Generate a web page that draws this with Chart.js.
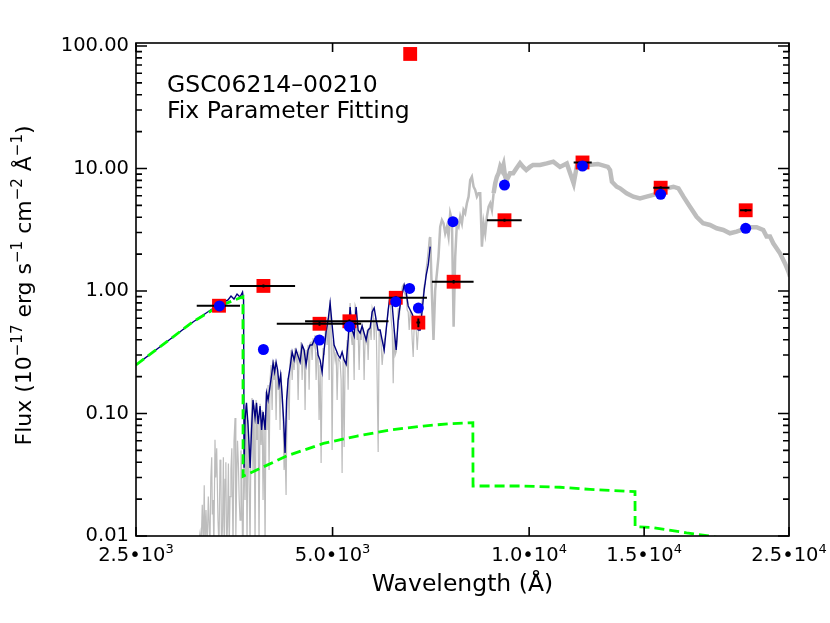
<!DOCTYPE html>
<html>
<head>
<meta charset="utf-8">
<script src="https://cdn.jsdelivr.net/npm/chart.js@4.4.1/dist/chart.umd.min.js"></script>
<style>
  html, body { margin: 0; padding: 0; background: #fff; }
  #wrap { width: 830px; height: 623px; }
</style>
</head>
<body>
<div id="wrap"><canvas id="sed" width="830" height="623"></canvas></div>
<script>
// axis ticks (mantissa, power of ten)
const xTicks = [2500, 5000, 10000, 15000, 25000];
const xTickMant = ['2.5•10', '5.0•10', '1.0•10', '1.5•10', '2.5•10'];
const xTickExp = ['3', '3', '4', '4', '4'];
const yTicks = [0.01, 0.1, 1, 10, 100];
const yTickLabels = ['0.01', '0.10', '1.00', '10.00', '100.00'];
const labelLines = ['GSC06214–00210', 'Fix Parameter Fitting'];
// y title pieces, odd entries are superscripts
const yTitleParts = ['Flux (10', '−17', ' erg s', '−1', ' cm', '−2', ' Å', '−1', ')'];

// observed photometry (red squares) with filter widths
const photWave   = [3350, 3918, 4775, 5306, 6248, 6766, 6574, 7662, 9167, 12070, 15900, 21460];
const photFlux   = [0.758, 1.10, 0.54, 0.566, 0.88, 0.552, 86.1, 1.19, 3.78, 11.2, 6.97, 4.56];
const photWaveLo = [3097, 3480, 4107, 4538, 5510, 6720, 6574, 7097, 8616, 11700, 15490, 21035];
const photWaveHi = [3608, 4381, 5530, 6090, 6974, 6810, 6574, 8221, 9741, 12470, 16400, 21900];
const photFluxErr = [0.02, 0.03, 0.02, 0.02, 0.03, 0.045, 0, 0.04, 0.1, 0.3, 0.2, 0.12];

// synthetic photometry (blue circles)
const synWave = [3355, 3918, 4775, 5306, 6248, 6560, 6766, 7643, 9167, 12070, 15900, 21460];
const synFlux = [0.755, 0.333, 0.398, 0.511, 0.818, 1.05, 0.725, 3.68, 7.33, 10.48, 6.15, 3.25];

// green dashed model
const modelWave = [2500, 3061, 3355, 3645, 3647, 4253, 4841, 5452, 6126, 6883, 7570, 8200, 8205, 9684, 11150, 12400, 14525, 14530, 15490, 17420, 18920, 22000];
const modelFlux = [0.249, 0.564, 0.755, 0.897, 0.0307, 0.045, 0.057, 0.0655, 0.0733, 0.079, 0.0826, 0.0841, 0.0256, 0.0256, 0.025, 0.024, 0.023, 0.0119, 0.0117, 0.0106, 0.0100, 0.0085];

// navy spectrum
const navyWave = [2500, 2770, 3057, 3303, 3458, 3495, 3532, 3570, 3608, 3640, 3653, 3660, 3672, 3691, 3711, 3725, 3738, 3757, 3777, 3804,
  3824, 3845, 3872, 3893, 3913, 3941, 3962, 3983, 4011, 4033, 4054, 4076, 4097, 4119, 4141, 4163, 4185, 4207, 4229, 4252,
  4274, 4305, 4336, 4366, 4397, 4428, 4459, 4491, 4523, 4554, 4587, 4619, 4652, 4685, 4718, 4751, 4785, 4819, 4853, 4887,
  4922, 4957, 4992, 5027, 5063, 5099, 5135, 5171, 5208, 5245, 5282, 5319, 5357, 5395, 5433, 5471, 5510, 5549, 5588, 5628,
  5668, 5708, 5749, 5790, 5831, 5872, 5913, 5955, 5998, 6040, 6083, 6126, 6170, 6214, 6257, 6302, 6346, 6391, 6437, 6482,
  6528, 6574, 6621, 6668, 6715, 6763, 6810, 6859, 6907, 6956, 7005, 7054];
const navyFlux = [0.249, 0.376, 0.558, 0.740, 0.845, 0.91, 0.86, 0.945, 0.893, 0.98, 0.845, 0.036, 0.0885, 0.122, 0.0805, 0.0553, 0.036, 0.0733, 0.129, 0.092,
  0.122, 0.082, 0.115, 0.0733, 0.103, 0.0733, 0.147, 0.129, 0.168, 0.206, 0.258, 0.218, 0.263, 0.227, 0.171, 0.206, 0.142, 0.0885, 0.0477, 0.129,
  0.188, 0.240, 0.318, 0.273, 0.330, 0.294, 0.263, 0.362, 0.330, 0.249, 0.330, 0.362, 0.362, 0.398, 0.421, 0.300, 0.273, 0.218, 0.330, 0.463,
  0.580, 0.798, 0.528, 0.362, 0.330, 0.300, 0.283, 0.318, 0.273, 0.253, 0.398, 0.740, 0.481, 0.429, 0.740, 0.481, 0.454, 0.518, 0.454, 0.398,
  0.481, 0.499, 0.674, 0.727, 0.580, 0.481, 0.481, 0.398, 0.330, 0.481, 0.700, 0.927, 0.769, 0.481, 0.330, 0.580, 0.769, 0.945, 1.12, 0.98,
  0.755, 0.700, 0.649, 0.580, 0.518, 0.481, 0.481, 0.700, 1.02, 1.35, 1.63, 2.3];

// grey high resolution spectrum
const greyWave = [3111, 3133, 3145, 3158, 3170, 3180, 3189, 3200, 3213, 3226, 3236, 3245, 3255, 3265, 3272, 3280, 3290, 3303, 3312, 3323,
  3338, 3350, 3362, 3372, 3380, 3392, 3402, 3412, 3422, 3432, 3441, 3452, 3463, 3473, 3483, 3494, 3505, 3512, 3520, 3532,
  3545, 3555, 3566, 3576, 3587, 3597, 3608, 3620, 3630, 3640,
  3647, 3660, 3672, 3685, 3698, 3711, 3725, 3738, 3751, 3764, 3777, 3791, 3804, 3818, 3831, 3845, 3858, 3872, 3886, 3900,
  3913, 3927, 3941, 3955, 3969, 3983, 3997, 4011, 4025, 4040, 4054, 4068, 4083, 4097, 4112, 4126, 4141, 4155, 4170, 4185,
  4200, 4214, 4229, 4244, 4259, 4274, 4290, 4305, 4320, 4336, 4351, 4366, 4381, 4397, 4413, 4428, 4444, 4459, 4475, 4491,
  4507, 4523, 4538, 4554, 4571, 4587, 4603, 4619, 4635, 4652, 4668, 4685, 4701, 4718, 4735, 4751, 4768, 4785, 4802, 4819,
  4836, 4853, 4870, 4887, 4905, 4922, 4940, 4957, 4975, 4992, 5010, 5027, 5045, 5063, 5081, 5099, 5117, 5135, 5153, 5171,
  5190, 5208, 5226, 5245, 5263, 5282, 5300, 5319, 5338, 5357, 5376, 5395, 5414, 5433, 5452, 5471, 5491, 5510, 5530, 5549,
  5569, 5588, 5608, 5628, 5648, 5668, 5688, 5708, 5728, 5749, 5769, 5790, 5810, 5831, 5851, 5872, 5893, 5913, 5934, 5955,
  5977, 5998, 6019, 6040, 6062, 6083, 6105, 6126, 6148, 6170, 6192, 6214, 6235, 6257, 6280, 6302, 6324, 6346, 6369, 6391,
  6414, 6437, 6459, 6482, 6505, 6528, 6551, 6574, 6597, 6621, 6644, 6668, 6691, 6715, 6739, 6763, 6787, 6810, 6835, 6859,
  6883, 6907, 6931, 6956, 6981, 7005, 7030, 7054,
  7097, 7137, 7180, 7223, 7264, 7308, 7352, 7395, 7438, 7483, 7526, 7570, 7616, 7662, 7705, 7751, 7797, 7842, 7889, 7935,
  7981, 8029, 8077, 8123, 8172, 8221, 8268, 8317, 8366, 8415, 8466, 8516, 8565, 8616, 8669, 8717, 8769, 8822, 8873, 8926,
  8978, 9030, 9083, 9136, 9188, 9241, 9295, 9348, 9454, 9564, 9684, 9790, 9899, 10030, 10140, 10391, 10640, 10890, 11150, 11420,
  11700, 11840, 12290, 12740, 13200, 13302, 13390, 13620, 13778, 14100, 14440, 14783, 15130, 15490, 15865, 16240, 16630, 16930, 17230, 17632,
  18050, 18470, 18920, 19370, 19830, 20300, 20780, 21270, 21790, 22300, 22830, 23100, 23380, 23650, 24220, 24650, 24950, 25090];
const greyFlux = [0.008, 0.0106, 0.008, 0.018, 0.008, 0.026, 0.008, 0.0163, 0.008, 0.021, 0.012, 0.008, 0.03, 0.044, 0.015, 0.0197, 0.008, 0.061, 0.03, 0.052,
  0.0135, 0.008, 0.042, 0.035, 0.008, 0.012, 0.044, 0.008, 0.029, 0.04, 0.008, 0.012, 0.039, 0.008, 0.021, 0.035, 0.052, 0.02, 0.008, 0.06,
  0.092, 0.01, 0.029, 0.06, 0.039, 0.02, 0.0135, 0.05, 0.032, 0.008,
  0.008, 0.0733, 0.0197, 0.117, 0.008, 0.0885, 0.0286, 0.008, 0.0805, 0.134, 0.0346, 0.117, 0.008, 0.129, 0.0608, 0.0885, 0.008, 0.120, 0.0553, 0.107,
  0.0197, 0.0972, 0.008, 0.150, 0.0733, 0.171, 0.0346, 0.188, 0.249, 0.107, 0.273, 0.188, 0.263, 0.0885, 0.235, 0.156, 0.188, 0.0733, 0.218, 0.129,
  0.0885, 0.0346, 0.0504, 0.0216, 0.129, 0.195, 0.0885, 0.263, 0.330, 0.188, 0.300, 0.227, 0.342, 0.273, 0.318, 0.129, 0.300, 0.273, 0.383, 0.188,
  0.342, 0.318, 0.107, 0.330, 0.273, 0.362, 0.156, 0.376, 0.383, 0.273, 0.413, 0.362, 0.437, 0.188, 0.318, 0.283, 0.0885, 0.249, 0.0394, 0.227,
  0.342, 0.300, 0.437, 0.580, 0.362, 0.602, 0.188, 0.845, 0.481, 0.0504, 0.398, 0.330, 0.273, 0.318, 0.129, 0.283, 0.273, 0.263, 0.188, 0.0327,
  0.300, 0.0533, 0.263, 0.249, 0.398, 0.156, 0.580, 0.798, 0.437, 0.362, 0.463, 0.188, 0.769, 0.727, 0.398, 0.481, 0.227, 0.463, 0.398, 0.528,
  0.481, 0.188, 0.413, 0.383, 0.481, 0.273, 0.499, 0.499, 0.398, 0.727, 0.674, 0.398, 0.602, 0.528, 0.188, 0.0486, 0.481, 0.463, 0.362, 0.249,
  0.318, 0.398, 0.413, 0.481, 0.580, 0.674, 0.845, 0.927, 0.580, 0.481, 0.177, 0.481, 0.300, 0.318, 0.398, 0.727, 0.580, 0.769, 0.845, 1.08,
  1.12, 0.98, 0.927, 0.96, 0.700, 0.674, 0.481, 0.674, 0.649, 0.398, 0.289, 0.528, 0.558, 0.481, 0.330, 0.463, 0.481, 0.637, 0.727, 0.845,
  0.91, 1.12, 1.14, 1.54, 1.79, 2.16, 2.71, 2.76,
  0.957, 0.398, 1.02, 1.39, 1.90, 3.35, 3.80, 3.57, 2.96, 3.35, 2.78, 4.31, 3.80, 0.511, 1.90, 3.57, 3.35, 4.04, 3.57, 4.58,
  4.31, 5.20, 5.89, 8.05, 8.57, 7.10, 6.67, 5.89, 6.28, 6.28, 2.30, 3.57, 2.96, 4.04, 4.88, 5.20, 4.58, 6.28, 7.57, 8.57,
  9.14, 10.34, 9.72, 10.7, 8.57, 8.05, 8.57, 9.14, 9.14, 10.04, 11.03, 10.3, 9.72, 10.3, 10.7, 10.7, 11.0, 11.37, 10.3, 11.0,
  7.56, 10.7, 10.7, 10.9, 10.3, 9.72, 7.80, 7.10, 6.89, 6.28, 5.89, 5.71, 5.89, 6.08, 6.47, 6.89, 7.10, 6.89, 5.89, 4.88,
  4.04, 3.57, 3.46, 3.25, 3.15, 2.96, 3.05, 3.19, 3.32, 3.32, 3.15, 2.78, 2.78, 2.45, 2.03, 1.68, 1.44, 1.31];

const toPoints = (xs, ys) => xs.map((x, i) => ({x: x, y: ys[i]}));

// error bars: horizontal filter width, small vertical flux error
const errPoints = [];
photWave.forEach((w, i) => {
    errPoints.push({x: photWaveLo[i], y: photFlux[i]}, {x: photWaveHi[i], y: photFlux[i]}, {x: w, y: null});
    if (photFluxErr[i] > 0) {
        errPoints.push({x: w, y: photFlux[i] - photFluxErr[i]}, {x: w, y: photFlux[i] + photFluxErr[i]}, {x: w, y: null});
    }
});

const FONT = '"DejaVu Sans"';

// frame and tick marks like the IDL box
const framePlugin = {
    id: 'frame',
    afterDatasetsDraw(chart) {
        const {ctx, chartArea: a, scales} = chart;
        const xs = scales.x, ys = scales.y;
        ctx.save();
        ctx.strokeStyle = '#000';
        ctx.lineWidth = 1.6;
        ctx.strokeRect(a.left, a.top, a.right - a.left, a.bottom - a.top);
        ctx.beginPath();
        xTicks.forEach(v => {
            const px = xs.getPixelForValue(v);
            ctx.moveTo(px, a.bottom); ctx.lineTo(px, a.bottom - 9);
            ctx.moveTo(px, a.top); ctx.lineTo(px, a.top + 9);
        });
        yTicks.forEach(v => {
            for (let m = 1; m <= 9; m++) {
                const val = v * m;
                if (val > ys.max) break;
                const py = ys.getPixelForValue(val);
                const len = m === 1 ? 11 : 6;
                ctx.moveTo(a.left, py); ctx.lineTo(a.left + len, py);
                ctx.moveTo(a.right, py); ctx.lineTo(a.right - len, py);
            }
        });
        ctx.stroke();
        ctx.restore();
    }
};

// text with superscripts: parts alternate normal / raised
function drawParts(ctx, parts, x, y, size, align) {
    const supSize = Math.round(size * 0.68);
    const widths = parts.map((p, i) => {
        ctx.font = (i % 2 ? supSize : size) + 'px ' + FONT;
        return ctx.measureText(p).width;
    });
    const total = widths.reduce((s, w) => s + w, 0);
    let cx = align === 'center' ? x - total / 2 : x;
    parts.forEach((p, i) => {
        ctx.font = (i % 2 ? supSize : size) + 'px ' + FONT;
        ctx.fillText(p, cx, i % 2 ? y - size * 0.42 : y);
        cx += widths[i];
    });
}

// tick labels of the x axis, y title, object name
const textPlugin = {
    id: 'label',
    afterDraw(chart) {
        const {ctx, chartArea: a, scales} = chart;
        ctx.save();
        ctx.fillStyle = '#000';
        ctx.textAlign = 'left';
        ctx.textBaseline = 'alphabetic';
        xTicks.forEach((v, i) => {
            drawParts(ctx, [xTickMant[i], xTickExp[i]], scales.x.getPixelForValue(v), 561, 19.5, 'center');
        });
        ctx.save();
        ctx.translate(31, (a.top + a.bottom) / 2 - 4);
        ctx.rotate(-Math.PI / 2);
        drawParts(ctx, yTitleParts, 0, 0, 22, 'center');
        ctx.restore();
        ctx.font = '23.5px ' + FONT;
        ctx.fillText(labelLines[0], 167, 92);
        ctx.fillText(labelLines[1], 167, 118);
        ctx.restore();
    }
};

new Chart(document.getElementById('sed'), {
    type: 'scatter',
    data: {
        datasets: [
            {
                label: 'synthetic',
                data: toPoints(synWave, synFlux),
                pointStyle: 'circle',
                pointRadius: 5.5,
                backgroundColor: '#0000ff',
                borderWidth: 0
            },
            {
                label: 'errors',
                data: errPoints,
                showLine: true,
                spanGaps: false,
                pointRadius: 0,
                borderColor: '#000',
                borderWidth: 2
            },
            {
                label: 'photometry',
                data: toPoints(photWave, photFlux),
                pointStyle: 'rect',
                pointRadius: 9.8,
                backgroundColor: '#ff0000',
                borderWidth: 0
            },
            {
                label: 'model',
                data: toPoints(modelWave, modelFlux),
                showLine: true,
                pointRadius: 0,
                borderColor: '#00ff00',
                borderWidth: 2.8,
                borderDash: [10, 5]
            },
            {
                label: 'navy',
                data: toPoints(navyWave, navyFlux),
                showLine: true,
                pointRadius: 0,
                borderColor: '#00007f',
                borderWidth: 1.4
            },
            {
                label: 'grey',
                data: toPoints(greyWave, greyFlux),
                showLine: true,
                pointRadius: 0,
                borderColor: '#bdbdbd',
                borderWidth: 1.2,
                segment: {
                    borderWidth: c => c.p0.parsed.x >= 8800 ? 4.5 : (c.p0.parsed.x >= 7050 ? 2.5 : 1.2)
                }
            }
        ]
    },
    options: {
        responsive: false,
        animation: false,
        layout: { padding: { left: 0, right: 41, top: 43, bottom: 0 } },
        plugins: {
            legend: { display: false },
            tooltip: { enabled: false }
        },
        scales: {
            x: {
                type: 'logarithmic',
                position: 'bottom',
                min: 2500,
                max: 25000,
                grid: { display: false, drawTicks: false },
                border: { display: false },
                afterBuildTicks: s => { s.ticks = xTicks.map(v => ({value: v})); },
                ticks: { display: false },
                title: {
                    display: true,
                    text: 'Wavelength (Å)',
                    color: '#000',
                    font: { family: FONT, size: 23.5 },
                    padding: { top: 0, bottom: 24 }
                },
                afterFit: s => { s.height = 87; }
            },
            y: {
                type: 'logarithmic',
                position: 'left',
                min: 0.01,
                max: 105.8,
                grid: { display: false, drawTicks: false },
                border: { display: false },
                afterBuildTicks: s => { s.ticks = yTicks.map(v => ({value: v})); },
                ticks: {
                    callback: (v, i) => yTickLabels[i],
                    autoSkip: false,
                    padding: 7,
                    color: '#000',
                    font: { family: FONT, size: 19.5 }
                },
                afterFit: s => { s.width = 136; }
            }
        }
    },
    plugins: [framePlugin, textPlugin]
});
</script>
</body>
</html>
